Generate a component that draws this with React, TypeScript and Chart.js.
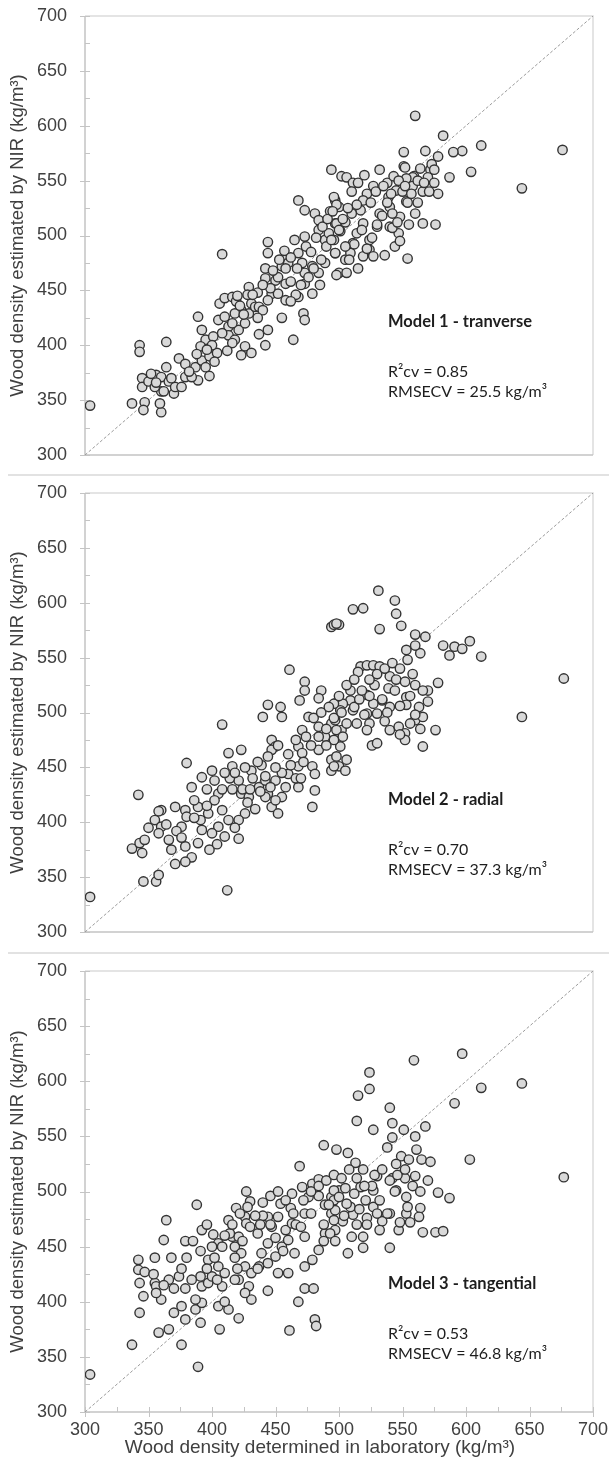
import React, { useEffect, useRef } from "react";
import { Chart, registerables } from "chart.js";

Chart.register(...registerables);

const axisMin = 300;
const axisMax = 700;
const axisStep = 50;
const xAxisTitle = "Wood density determined in laboratory (kg/m³)";
const yAxisTitle = "Wood density estimated by NIR (kg/m³)";

const modelTitles = ["Model 1 - tranverse", "Model 2 - radial", "Model 3 - tangential"];
const r2Labels = ["R²cv = 0.85", "R²cv = 0.70", "R²cv = 0.53"];
const rmseLabels = ["RMSECV = 25.5 kg/m³", "RMSECV = 37.3 kg/m³", "RMSECV = 46.8 kg/m³"];

const identityLine: [number, number][] = [[300, 300], [700, 700]];

const model1Points: [number, number][] = [
  [304,345],[337,347],[343,400],[343,394],[364,403],[347,348],[346,341],[360,339],[359,347],
  [345,370],[345,362],[350,367],[356,373],[360,371],[366,367],[370,356],[371,362],[360,358],[355,362],[364,380],[374,388],[379,383],[379,371],[387,380],[389,368],[384,371],[392,386],
  [389,426],[392,414],[395,405],[391,399],[398,390],[404,393],
  [406,438],[410,443],[416,444],[419,440],[423,432],[405,423],[410,426],[418,429],[413,417],[421,414],[426,420],[429,429],[431,438],[434,435],[429,453],[413,409],[418,405],[426,399],[431,393],[423,391],[416,402],[408,411],[401,408],
  [444,414],[442,400],[464,405],[472,429],[473,423],[444,494],[444,484],[408,483],
  [442,470],[442,461],[450,459],[447,447],[458,441],[455,472],[460,475],[465,496],[473,499],[468,484],[471,475],[473,466],[479,472],[484,466],[489,475],[473,456],[479,447],[468,444],[458,456],[437,435],[444,441],[452,447],
  [468,532],[473,523],[481,520],[484,514],[484,505],[494,560],[497,532],[500,526],[497,511],[497,484],[500,466],[489,496],[492,502],[502,554],
  [506,553],[511,548],[496,535],[498,528],[493,522],[498,511],[501,504],[496,496],[497,484],[498,464],[506,466],[505,478],[509,484],[511,493],[514,502],[519,511],[517,523],[522,538],[519,532],[527,545],[532,560],[538,548],[543,554],[545,541],[539,535],[540,526],[532,520],[530,508],[524,496],[524,487],[527,481],[519,481],[540,508],[548,517],[553,531],[551,563],[559,554],[564,561],[572,560],[547,502],[542,507],
  [560,609],[582,591],[612,582],[597,577],[590,576],[676,578],[604,558],[587,553],[644,543],[578,538],[566,511],[576,510],[554,479],[551,576],[568,577],[552,562],[558,553],[553,552],
  [395,380],[398,372],[402,385],[412,395],[416,420],[422,436],[428,446],[436,448],[440,432],[446,452],[452,462],[458,470],[462,458],[466,446],[470,455],[476,462],[480,470],[486,478],[490,490],[494,496],[500,505],[505,512],[510,520],[514,528],[518,505],[522,488],[526,498],[530,510],[534,518],[538,530],[542,520],[546,512],[550,540],[554,530],[558,545],[562,550],[566,540],[570,553],[573,565],[575,548],[578,572],[544,490],[536,482],[512,492],[508,478],[388,392],[382,376],[376,362],[368,370],[362,358],[352,374],[356,366],
  [420,445],[425,428],[432,446],[436,425],[440,455],[448,468],[453,478],[457,486],[462,480],[467,470],[474,490],[478,485],[482,498],[487,508],[491,515],[495,522],[503,515],[507,525],[510,540],[515,548],[520,555],[525,530],[529,540],[535,545],[541,538],[547,550],[552,545],[557,538],[562,530],[567,548],[571,540],[575,560],[560,520],[555,510],[548,495],[515,470],[505,490],[485,455],[462,440],[455,425],[437,410],[400,400],[396,396]
];

const model2Points: [number, number][] = [
  [304,332],[342,425],[337,376],[345,372],[343,381],[347,384],[346,346],[356,346],[358,352],
  [355,402],[360,411],[360,396],[358,390],[366,384],[368,375],[371,362],[379,378],[376,396],[371,414],[379,411],[384,432],[380,454],[389,414],[391,402],[392,393],[389,381],[384,368],[379,364],[398,375],[392,441],[400,447],[402,438],[405,426],[408,411],[413,402],[405,396],[410,387],[400,390],[397,408],[413,463],[423,466],[416,451],[421,438],[423,426],[429,423],[426,408],[421,402],[431,447],[437,432],[442,438],[444,426],[447,414],[452,408],[455,423],[458,432],[460,444],[468,451],[468,432],[450,438],[439,452],[442,423],
  [408,489],[421,385],[412,338],
  [444,507],[454,505],[440,496],[455,496],[447,475],[450,469],[447,466],[461,539],[473,528],[473,520],[469,511],[476,496],[486,520],[484,513],[471,484],[484,487],[468,469],[471,463],[484,466],[479,451],[481,444],[481,429],[479,414],[489,478],[494,490],[497,508],[494,457],[494,447],[500,451],[501,469],[502,484],[494,578],[500,580],
  [531,611],[511,594],[519,595],[544,602],[545,590],[549,579],[532,576],[496,580],[498,581],
  [560,571],[568,569],[553,557],[564,554],[560,561],[582,561],[587,552],[591,560],[597,558],[603,565],[612,551],[677,531],[644,496],
  [517,542],[522,543],[527,543],[532,542],[515,537],[540,533],[539,522],[545,530],[552,528],[560,525],[578,527],[570,520],[553,514],[540,505],[534,511],[527,508],[522,516],[522,499],[524,490],[530,499],[522,484],[511,502],[509,511],[503,508],[501,502],[496,508],[497,493],[498,484],[503,478],[496,475],[498,460],[506,457],[505,447],[496,451],[540,484],[547,487],[552,481],[552,475],[560,493],[566,496],[563,505],[553,507],[576,484],[566,469],[526,470],[530,472],[509,520],
  [402,420],[408,430],[414,440],[418,445],[424,430],[428,418],[434,412],[438,428],[442,442],[446,432],[450,420],[455,445],[462,452],[466,440],[472,455],[478,470],[484,478],[490,485],[496,495],[502,500],[506,490],[512,505],[516,512],[520,498],[524,515],[528,525],[534,512],[538,500],[544,520],[548,506],[556,515],[560,498],[564,485],[386,420],[380,405],[372,392],[364,398],[358,410],[350,395],[396,415],[404,380],[418,395],
  [410,445],[416,430],[426,450],[432,440],[436,455],[444,460],[452,470],[460,462],[466,475],[474,478],[480,495],[486,500],[492,505],[500,515],[506,525],[512,530],[518,520],[524,530],[530,535],[536,540],[542,545],[548,540],[554,548],[558,535],[566,520],[570,510],[556,490],[548,480],[536,492],[514,490],[490,470],[470,440],[450,450],[430,430],[396,430],[386,404],[376,386]
];

const model3Points: [number, number][] = [
  [304,334],[337,361],[389,341],[376,361],[358,372],[366,375],[343,390],
  [342,438],[342,429],[347,427],[355,440],[343,417],[355,417],[346,405],[356,414],[360,402],[356,408],[366,420],[374,423],[379,412],[370,390],[376,396],[379,384],[387,393],[391,381],[392,399],[387,402],[392,414],[397,417],[400,423],[391,423],[405,396],[413,393],[406,375],[421,385],[408,414],[410,426],[405,432],[397,438],[392,465],[396,470],[379,455],[385,455],[391,446],[401,461],[405,453],[400,450],[362,456],[364,474],[388,488],[413,474],[419,485],[426,477],[427,500],[430,491],[427,471],[416,459],[421,459],[418,450],[423,444],[426,432],[431,426],[421,420],[429,414],[431,402],[426,408],[437,432],[439,444],[444,453],[444,435],[450,441],[455,450],[460,426],[452,426],[447,468],[444,477],[452,477],[458,465],[463,471],[454,489],[463,498],[469,523],[471,504],[476,495],[479,507],[484,511],[473,480],[473,459],[465,444],[473,432],[479,438],[484,447],[489,462],[497,465],[494,480],[489,488],[494,495],[500,501],[497,483],[488,542],[498,538],[473,412],[480,412],[468,400],[481,384],[482,378],[461,374],
  [597,625],[559,619],[644,598],[612,594],[524,608],[524,593],[515,587],[540,576],[514,564],[527,556],[591,580],
  [542,562],[551,556],[542,549],[538,540],[560,550],[568,559],[561,538],[549,532],[545,525],[555,529],[565,529],[572,527],[603,529],[677,513],
  [578,499],[587,494],[566,463],[576,463],[582,464],[540,449],[547,465],
  [507,535],[513,526],[519,520],[530,514],[542,512],[552,512],[560,514],[545,501],[553,495],[564,485],[563,477],[553,480],[540,480],[534,473],[532,465],[519,459],[510,459],[507,444],[519,449],[522,476],[511,479],[503,473],[496,474],[493,462],[497,455],[509,486],[496,492],[506,489],[521,492],[527,486],[505,503],[496,501],[517,504],[527,501],
  [402,440],[408,450],[414,462],[418,440],[424,455],[430,468],[436,462],[440,478],[446,470],[450,458],[456,446],[462,485],[466,470],[472,492],[478,480],[484,496],[488,470],[492,488],[500,495],[504,478],[512,498],[516,484],[522,470],[526,505],[532,492],[538,480],[544,500],[548,472],[554,486],[384,420],[376,430],[368,440],[362,415],[354,425],[410,400],[418,420],[436,430],[444,410],
  [410,460],[416,470],[422,480],[428,486],[434,478],[440,490],[446,496],[452,500],[458,492],[464,480],[470,468],[478,500],[484,505],[490,510],[496,515],[502,512],[508,520],[514,512],[520,505],[528,515],[534,520],[540,510],[546,515],[552,520],[558,505],[564,500],[570,510],[556,472],[530,480],[514,470],[488,455],[460,456],[438,470],[420,430],[404,420],[396,430],[380,440],[370,412]
];

const panelPoints = [model1Points, model2Points, model3Points];

const FONT = "'Liberation Sans', Arial, sans-serif";
const TEXT_FONT = "Lato, 'Open Sans', sans-serif";

const framePlugin = {
  id: "frame",
  beforeDatasetsDraw(chart: any, _args: any, opts: any) {
    const { ctx, chartArea } = chart;
    const { left, right, top, bottom } = chartArea;
    const xs = chart.scales.x;
    const ys = chart.scales.y;
    ctx.save();
    ctx.lineWidth = 1.5;
    ctx.strokeStyle = "#dcdcdc";
    ctx.beginPath();
    ctx.moveTo(left, top);
    ctx.lineTo(right, top);
    ctx.lineTo(right, bottom);
    ctx.stroke();
    ctx.strokeStyle = "#c4c4c4";
    ctx.beginPath();
    ctx.moveTo(left, top);
    ctx.lineTo(left, bottom);
    ctx.lineTo(right, bottom);
    ctx.stroke();
    ctx.lineWidth = 1;
    ctx.beginPath();
    for (let v = axisMin; v <= axisMax; v += axisStep / 2) {
      const py = Math.round(ys.getPixelForValue(v)) + 0.5;
      const major = v % axisStep === 0;
      ctx.moveTo(major ? left - 5 : left, py);
      ctx.lineTo(left + 5, py);
      if (opts.xTicks) {
        const px = Math.round(xs.getPixelForValue(v)) + 0.5;
        ctx.moveTo(px, major ? bottom + 5 : bottom);
        ctx.lineTo(px, bottom - 5);
      }
    }
    ctx.stroke();
    ctx.restore();
  },
  afterDraw(chart: any, _args: any, opts: any) {
    const { ctx, chartArea } = chart;
    const x0 = chartArea.left + 303;
    const t = chartArea.top + opts.textTop;
    ctx.save();
    ctx.fillStyle = "#1e1e1e";
    ctx.textBaseline = "middle";
    ctx.textAlign = "left";
    ctx.font = `bold 16.5px ${TEXT_FONT}`;
    ctx.fillText(opts.title, x0, t);
    ctx.font = `16px ${TEXT_FONT}`;
    ctx.fillText(opts.r2, x0, t + 50);
    ctx.fillText(opts.rmse, x0, t + 70);
    if (opts.xTitle) {
      ctx.fillStyle = "#404040";
      ctx.textAlign = "center";
      ctx.font = `19px ${FONT}`;
      ctx.fillText(opts.xTitle, 320, chartArea.bottom + 36);
    }
    ctx.restore();
  },
};

type PanelProps = {
  index: number;
  top: number;
  height: number;
  padTop: number;
  padBottom: number;
  showX: boolean;
  textTop: number;
};

function Panel({ index, top, height, padTop, padBottom, showX, textTop }: PanelProps) {
  const ref = useRef<HTMLCanvasElement | null>(null);
  useEffect(() => {
    if (!ref.current) return;
    const pts = panelPoints[index];
    const chart = new Chart(ref.current, {
      type: "scatter",
      data: {
        datasets: [
          {
            type: "scatter",
            data: pts.map(([x, y]) => ({ x, y })),
            pointRadius: 4.7,
            pointBackgroundColor: "#d9d9d9",
            pointBorderColor: "#333333",
            pointBorderWidth: 1.4,
            order: 0,
          } as any,
          {
            type: "line",
            data: identityLine.map(([x, y]) => ({ x, y })),
            borderColor: "#9a9a9a",
            borderWidth: 1,
            borderDash: [3, 2],
            pointRadius: 0,
            fill: false,
            order: 1,
          } as any,
        ],
      },
      options: {
        responsive: false,
        animation: false,
        layout: { padding: { top: padTop, right: 16, bottom: padBottom, left: 0 } },
        plugins: {
          legend: { display: false },
          tooltip: { enabled: false },
          frame: {
            xTicks: showX,
            xTitle: showX ? xAxisTitle : "",
            textTop,
            title: modelTitles[index],
            r2: r2Labels[index],
            rmse: rmseLabels[index],
          },
        } as any,
        scales: {
          x: {
            type: "linear",
            min: axisMin,
            max: axisMax,
            display: showX,
            grid: { display: false, drawTicks: false },
            border: { display: false },
            ticks: {
              stepSize: axisStep,
              padding: 7,
              maxRotation: 0,
              color: "#404040",
              font: { family: FONT, size: 18 },
            },
            title: { display: false },
            afterFit: (s: any) => {
              if (showX) s.height = 56;
              s.paddingLeft = 0;
              s.paddingRight = 0;
            },
          },
          y: {
            type: "linear",
            min: axisMin,
            max: axisMax,
            grid: { display: false, drawTicks: false },
            border: { display: false },
            ticks: {
              stepSize: axisStep,
              padding: 18,
              color: "#404040",
              font: { family: FONT, size: 18 },
            },
            title: {
              display: true,
              text: yAxisTitle,
              color: "#404040",
              font: { family: FONT, size: 18.5, lineHeight: 1.2 },
              padding: { top: 7, bottom: 0 },
            },
            afterFit: (s: any) => {
              s.width = 85;
              s.paddingTop = 0;
              s.paddingBottom = 0;
            },
          },
        },
      } as any,
      plugins: [framePlugin as any],
    });
    return () => chart.destroy();
  }, [index, showX, padTop, padBottom, textTop]);
  return (
    <canvas
      ref={ref}
      width={609}
      height={height}
      style={{ position: "absolute", left: 0, top, width: 609, height }}
    />
  );
}

export default function App() {
  return (
    <div
      style={{
        position: "absolute",
        left: 0,
        top: 0,
        width: 609,
        height: 1468,
        background: "#ffffff",
        overflow: "hidden",
      }}
    >
      <Panel index={0} top={0} height={475} padTop={16} padBottom={20} showX={false} textTop={306} />
      <div style={{ position: "absolute", left: 8, top: 474, width: 601, height: 2, background: "#e2e2e2" }} />
      <Panel index={1} top={476} height={477} padTop={17} padBottom={21} showX={false} textTop={307} />
      <div style={{ position: "absolute", left: 8, top: 952, width: 601, height: 2, background: "#e2e2e2" }} />
      <Panel index={2} top={955} height={513} padTop={16} padBottom={0} showX={true} textTop={313} />
    </div>
  );
}
